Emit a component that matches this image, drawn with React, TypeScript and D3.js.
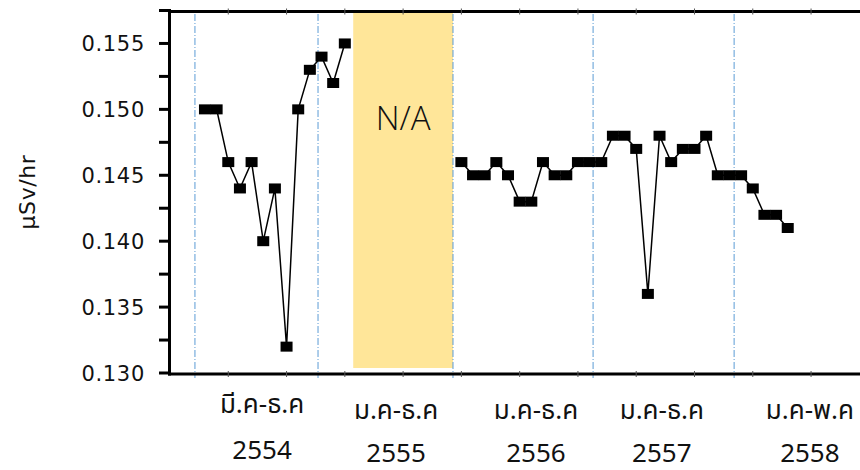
import * as d3 from 'd3';
import { useEffect, useRef } from 'react';

// monthly readings (μSv/hr), month index 0 = มี.ค 2554
const seg1Start = 0;
const seg1Values = [0.150, 0.150, 0.146, 0.144, 0.146, 0.140, 0.144, 0.132, 0.150, 0.153, 0.154, 0.152, 0.155];
const seg2Start = 22; // ม.ค 2556
const seg2Values = [
  0.146, 0.145, 0.145, 0.146, 0.145, 0.143, 0.143, 0.146, 0.145, 0.145, 0.146, 0.146,
  0.146, 0.148, 0.148, 0.147, 0.136, 0.148, 0.146, 0.147, 0.147, 0.148, 0.145, 0.145,
  0.145, 0.144, 0.142, 0.142, 0.141,
];

const periodLabels = ['มี.ค-ธ.ค', 'ม.ค-ธ.ค', 'ม.ค-ธ.ค', 'ม.ค-ธ.ค', 'ม.ค-พ.ค'];
const yearLabels = ['2554', '2555', '2556', '2557', '2558'];
const labelMonth = [4.9, 16.4, 28.4, 39.2, 51.9];
const separators = [-0.86, 9.7, 21.28, 33.3, 45.4];
const naRange = [12.72, 21.28];
const yTicks = [0.130, 0.135, 0.140, 0.145, 0.150, 0.155];

export default function App() {
  const svgRef = useRef<SVGSVGElement>(null);

  useEffect(() => {
    const w = 860;
    const h = 470;
    const svg = d3.select(svgRef.current);
    svg.selectAll('*').remove();

    const x = d3.scaleLinear().domain([-3, 56.2]).range([170, 860]);
    const y = d3.scaleLinear().domain([0.130, 0.1575]).range([373, 10.5]);

    // N/A band
    svg.append('rect')
      .attr('x', x(naRange[0]))
      .attr('y', 12)
      .attr('width', x(naRange[1]) - x(naRange[0]))
      .attr('height', 356)
      .attr('fill', '#FFE699');

    svg.append('text')
      .attr('x', x((naRange[0] + naRange[1]) / 2))
      .attr('y', 130)
      .attr('text-anchor', 'middle')
      .style('font', "300 33px 'Open Sans', 'Noto Sans', sans-serif")
      .attr('fill', '#111')
      .text('N/A');

    // year separators
    svg.selectAll('.sep')
      .data(separators)
      .enter().append('line')
      .attr('class', 'sep')
      .attr('x1', d => x(d)).attr('x2', d => x(d))
      .attr('y1', 14).attr('y2', 378)
      .attr('stroke', '#5B9BD5')
      .attr('stroke-width', 1)
      .attr('stroke-dasharray', '7,2,1,2');

    // frame: top and bottom with small ticks
    const xTicks = d3.range(-3, 56.2, 5);
    [11.5, 374].forEach(yy => {
      svg.append('line')
        .attr('x1', 168).attr('x2', w)
        .attr('y1', yy).attr('y2', yy)
        .attr('stroke', '#000').attr('stroke-width', 3);
      svg.selectAll(null)
        .data(xTicks.slice(1))
        .enter().append('line')
        .attr('x1', d => x(d)).attr('x2', d => x(d))
        .attr('y1', yy - 3).attr('y2', yy + 3)
        .attr('stroke', '#555').attr('stroke-width', 1);
    });

    // left axis
    svg.append('line')
      .attr('x1', 169.5).attr('x2', 169.5)
      .attr('y1', 9).attr('y2', 375.5)
      .attr('stroke', '#000').attr('stroke-width', 3);
    svg.selectAll('.ytick')
      .data(d3.range(0, 12).map(i => 0.130 + i * 0.0025))
      .enter().append('line')
      .attr('class', 'ytick')
      .attr('x1', 159).attr('x2', 170)
      .attr('y1', d => y(d)).attr('y2', d => y(d))
      .attr('stroke', '#000').attr('stroke-width', 3);

    svg.selectAll('.ylab')
      .data(yTicks)
      .enter().append('text')
      .attr('class', 'ylab')
      .attr('x', 145)
      .attr('y', d => y(d))
      .attr('dy', '0.36em')
      .attr('text-anchor', 'end')
      .style('font', "21px 'DejaVu Sans', sans-serif")
      .style('letter-spacing', '0.7px')
      .attr('fill', '#111')
      .text(d => d3.format('.3f')(d));

    svg.append('text')
      .attr('transform', 'translate(35,192) rotate(-90)')
      .attr('text-anchor', 'middle')
      .style('font', "22px 'DejaVu Sans', sans-serif")
      .style('letter-spacing', '0.6px')
      .attr('fill', '#111')
      .text('μSv/hr');

    // x labels
    const thaiFont = "26px 'Noto Sans Thai', 'Leelawadee UI', 'Noto Sans', sans-serif";
    svg.selectAll('.plab')
      .data(periodLabels)
      .enter().append('text')
      .attr('class', 'plab')
      .attr('x', (d, i) => x(labelMonth[i]))
      .attr('y', (d, i) => i === 0 ? 413 : 419)
      .attr('text-anchor', 'middle')
      .style('font', thaiFont)
      .attr('fill', '#111')
      .text(d => d);
    svg.selectAll('.ylabx')
      .data(yearLabels)
      .enter().append('text')
      .attr('class', 'ylabx')
      .attr('x', (d, i) => x(labelMonth[i]))
      .attr('y', (d, i) => i === 0 ? 459 : 462)
      .attr('text-anchor', 'middle')
      .style('font', "26px 'Noto Sans', sans-serif")
      .attr('fill', '#111')
      .text(d => d);

    // series
    const segments = [
      seg1Values.map((v, i) => ({ m: seg1Start + i, v })),
      seg2Values.map((v, i) => ({ m: seg2Start + i, v })),
    ];
    const line = d3.line<{ m: number; v: number }>()
      .x(d => x(d.m))
      .y(d => y(d.v));

    segments.forEach(seg => {
      svg.append('path')
        .datum(seg)
        .attr('d', line)
        .attr('fill', 'none')
        .attr('stroke', '#000')
        .attr('stroke-width', 1.5);
      svg.selectAll(null)
        .data(seg)
        .enter().append('rect')
        .attr('x', d => x(d.m) - 6)
        .attr('y', d => y(d.v) - 5)
        .attr('width', 12)
        .attr('height', 10)
        .attr('fill', '#000');
    });

    svg.attr('width', w).attr('height', h);
  }, []);

  return (
    <svg
      ref={svgRef}
      width={860}
      height={470}
      style={{ position: 'absolute', left: 0, top: 0, background: '#fff' }}
    />
  );
}
